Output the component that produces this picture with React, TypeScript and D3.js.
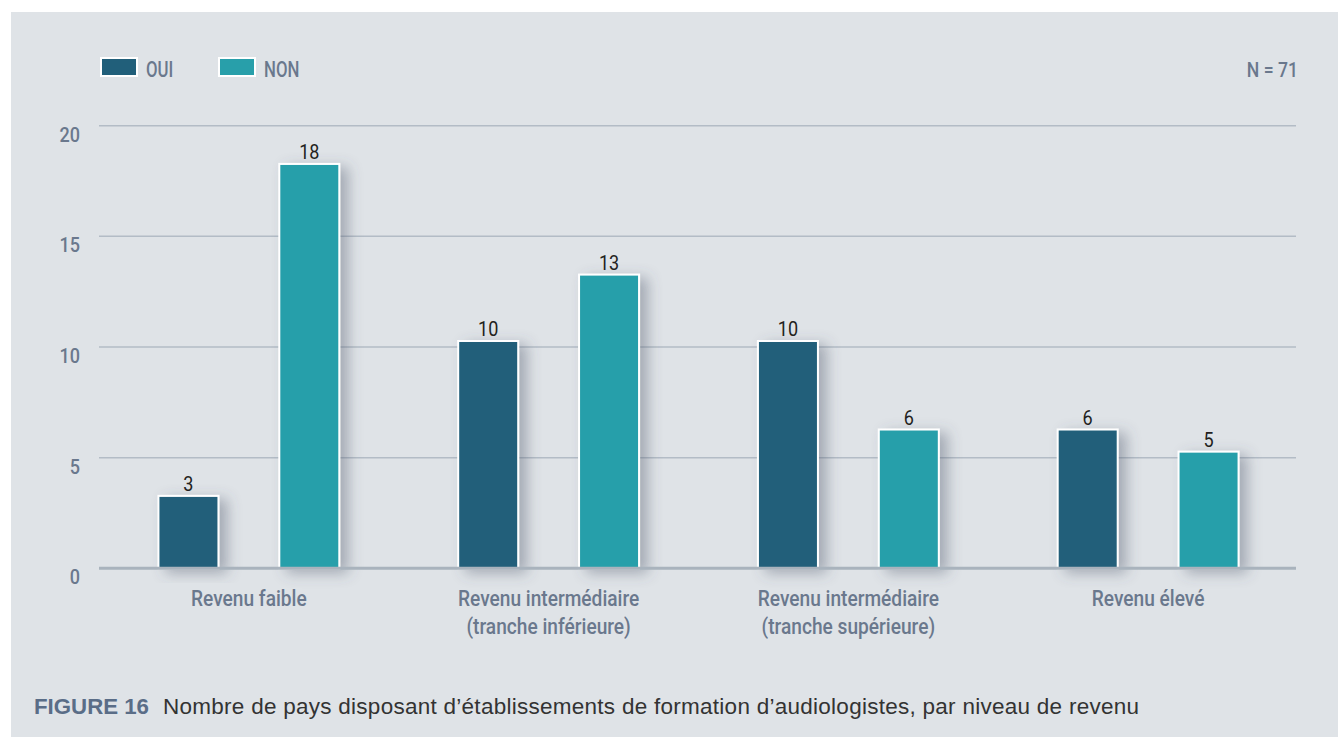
import React from "react";
import * as d3 from "d3";

const categories: string[][] = [
  ["Revenu faible"],
  ["Revenu intermédiaire", "(tranche inférieure)"],
  ["Revenu intermédiaire", "(tranche supérieure)"],
  ["Revenu élevé"],
];
const seriesNames = ["OUI", "NON"];
const ouiValues = [3, 10, 10, 6];
const nonValues = [18, 13, 6, 5];
const yTicks = [0, 5, 10, 15, 20];
const seriesColors = ["#215f7a", "#289faa"];
const noteText = "N = 71";
const captionLabel = "FIGURE 16";
const captionText =
  "Nombre de pays disposant d’établissements de formation d’audiologistes, par niveau de revenu";

const W = 1338;
const H = 737;
const BG = "#dfe3e7";
const LABEL = "#6a788d";
const FONT = "Roboto, 'Liberation Sans', Arial, sans-serif";
const CAPFONT = "'Liberation Sans', Arial, Helvetica, sans-serif";
const SX = 0.86;
const BAR_CAP = 6;

function CText(props: {
  x: number;
  y: number;
  size: number;
  anchor?: string;
  fill?: string;
  weight?: string | number;
  sx?: number;
  children: React.ReactNode;
}) {
  const { x, y, size, anchor = "start", fill = LABEL, weight = 500, sx = SX } = props;
  return (
    <text
      transform={`translate(${x},${y}) scale(${sx},1)`}
      textAnchor={anchor}
      fontFamily={FONT}
      fontSize={size}
      fontWeight={weight}
      fill={fill}
    >
      {props.children}
    </text>
  );
}

export default function App() {
  const keys = categories.map((c) => c.join(" "));
  const x = d3.scaleBand<string>().domain(keys).range([99, 1298]).padding(0);
  const inner = d3
    .scalePoint<string>()
    .domain(seriesNames)
    .range([0, x.bandwidth()])
    .padding(0.74);
  const y = d3.scaleLinear().domain([0, 20]).range([568.3, 125.7]);
  const barW = 60;
  const data = [ouiValues, nonValues];

  return (
    <svg
      width={W}
      height={H}
      style={{ position: "absolute", left: 0, top: 0, display: "block" }}
    >
      <defs>
        <filter id="shadow" x="-50%" y="-20%" width="200%" height="140%">
          <feDropShadow dx="8" dy="4" stdDeviation="7" floodColor="#4a5468" floodOpacity="0.4" />
        </filter>
      </defs>
      <rect x={0} y={0} width={W} height={H} fill="#ffffff" />
      <rect x={11} y={12} width={W - 11} height={H - 12} fill={BG} />

      {/* Legend */}
      {seriesNames.map((s, i) => {
        const lx = [100, 218][i];
        return (
          <g key={s}>
            <rect x={lx + 1} y={58} width={36} height={18} fill={seriesColors[i]} stroke="#fff" strokeWidth={2} />
            <CText x={lx + 46} y={77} size={21.5} sx={0.78}>
              {s}
            </CText>
          </g>
        );
      })}
      <CText x={1298} y={77} size={21} anchor="end" sx={0.84}>
        {noteText}
      </CText>

      {/* Grid */}
      {yTicks.map((t) => (
        <g key={t}>
          {t !== 0 && (
            <line x1={99} x2={1296} y1={y(t)} y2={y(t)} stroke="#b3bcc6" strokeWidth={1.5} />
          )}
          <CText x={80} y={y(t) + 16} size={21} anchor="end">
            {t}
          </CText>
        </g>
      ))}

      {/* Bars */}
      {keys.map((k, ci) => (
        <g key={k}>
          {seriesNames.map((s, si) => {
            const v = data[si][ci];
            const cx = (x(k) as number) + (inner(s) as number);
            const top = y(v) - BAR_CAP;
            return (
              <g key={s}>
                <rect
                  x={cx - barW / 2}
                  y={top}
                  width={barW}
                  height={y(0) - top}
                  fill={seriesColors[si]}
                  stroke="#ffffff"
                  strokeWidth={2}
                  filter="url(#shadow)"
                />
                <CText x={cx} y={top - 5} size={21} anchor="middle" fill="#231f20" weight={400}>
                  {v}
                </CText>
              </g>
            );
          })}
        </g>
      ))}

      {/* Baseline */}
      <line x1={99} x2={1296} y1={y(0)} y2={y(0)} stroke="#a9b3bd" strokeWidth={3} />

      {/* Category labels */}
      {categories.map((lines, ci) => {
        const cx = (x(keys[ci]) as number) + x.bandwidth() / 2;
        return (
          <g key={ci}>
            {lines.map((ln, li) => (
              <CText key={li} x={cx} y={606 + li * 27.5} size={22} anchor="middle" sx={0.87}>
                {ln}
              </CText>
            ))}
          </g>
        );
      })}

      {/* Caption */}
      <text x={34} y={714} fontFamily={CAPFONT} fontSize={21.5} fontWeight="bold" fill="#5a6d87" textLength={115} lengthAdjust="spacingAndGlyphs">
        {captionLabel}
      </text>
      <text x={163} y={714} fontFamily={CAPFONT} fontSize={22.5} fill="#333333" textLength={976} lengthAdjust="spacing">
        {captionText}
      </text>
    </svg>
  );
}
